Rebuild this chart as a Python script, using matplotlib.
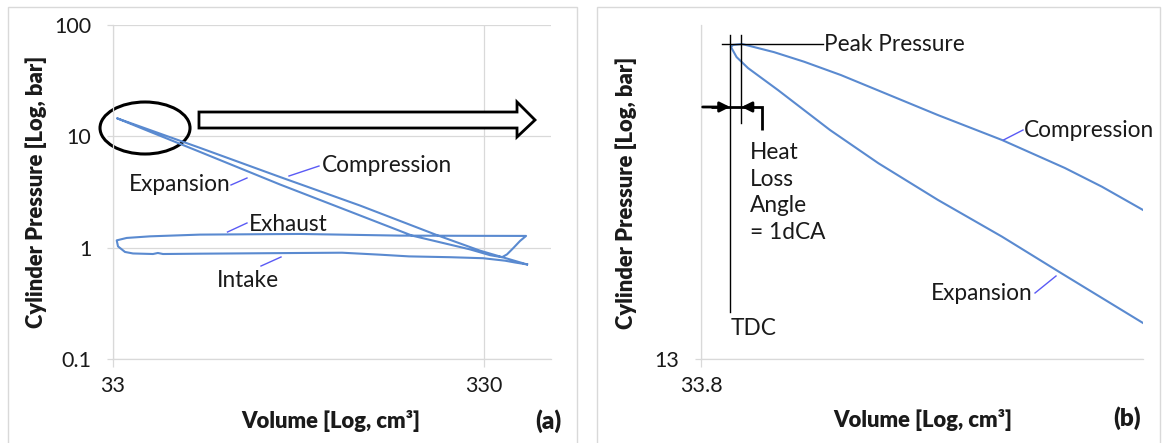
import numpy as np
import matplotlib
matplotlib.use('Agg')
import matplotlib.pyplot as plt
from matplotlib.patches import Ellipse, Polygon, Rectangle
from matplotlib.ticker import NullLocator

plt.rcParams['font.family'] = ['Lato', 'DejaVu Sans']

# ---- panel (a): full cycle, log-log ----
comp_V = [431.0, 321.9, 246.4, 152.9, 93.0, 56.6, 33.83]
comp_p = [0.707, 0.940, 1.296, 2.389, 4.315, 7.88, 14.53]
exp_V = [41.53, 56.6, 93.0, 143.6, 211.1, 302.5, 342.5, 369.0]
exp_p = [11.0, 7.25, 3.695, 2.111, 1.283, 0.965, 0.856, 0.821]
rise_V = [380.5, 395.0, 412.6, 428.3]
rise_p = [0.870, 0.986, 1.149, 1.275]
exh_V = [321.9, 195.9, 105.3, 56.6, 41.53, 35.93, 33.77]
exh_p = [1.277, 1.283, 1.328, 1.310, 1.264, 1.223, 1.163]
loop_V = [34.04, 35.55, 37.36]
loop_p = [1.027, 0.915, 0.887]
int_V = [42.3, 43.6, 45.0, 56.6, 105.3, 136.7, 173.0, 207.1, 267.2, 328.0, 375.9, 400.0, 431.0]
int_p = [0.877, 0.896, 0.877, 0.883, 0.896, 0.901, 0.865, 0.835, 0.821, 0.804, 0.764, 0.736, 0.707]

a_xticks = [33, 330]
a_yticks = [0.1, 1, 10, 100]
a_yticklabels = ['0.1', '1', '10', '100']

# ---- panel (b): zoom around TDC ----
bcomp_V = [34.6, 34.525, 34.4574, 34.3428, 34.2266, 34.0514, 33.9848, 33.9308, 33.8734, 33.8573, 33.8537]
bcomp_p = [13.691, 13.802, 13.892, 14.028, 14.150, 14.348, 14.415, 14.463, 14.504, 14.499, 14.489]
bexp_V = [33.8537, 33.8637, 33.8842, 33.9380, 34.0316, 34.119, 34.2266, 34.3428, 34.4501, 34.6]
bexp_p = [14.4885, 14.4382, 14.3831, 14.2736, 14.0767, 13.9149, 13.7387, 13.5646, 13.3944, 13.1637]
V_tdc = 33.852
V_peak = 33.8725
p_peak = 14.504

line_col = '#5a8ad0'
lead_col = '#5a5af5'
grid_col = '#d9d9d9'
txt_col = '#1a1a1a'

fs = 16.3      # annotation text
fs_lab = 15.8  # bold axis labels
bold_w = 'heavy'

fig = plt.figure(figsize=(11.65, 4.43), dpi=100)

# panel frames
for x0, x1 in [(8, 577), (597, 1160)]:
    fig.patches.append(Rectangle((x0 / 1165, -0.02), (x1 - x0) / 1165, 1 - 7 / 443 + 0.02,
                                 transform=fig.transFigure, fill=False, ec=grid_col, lw=1.0))


def style_axes(ax):
    ax.set_xscale('log')
    ax.set_yscale('log')
    ax.grid(True, color=grid_col, lw=0.9)
    for s in ['top', 'right']:
        ax.spines[s].set_visible(False)
    for s in ['left', 'bottom']:
        ax.spines[s].set_color(grid_col)
        ax.spines[s].set_linewidth(0.9)
    ax.tick_params(axis='y', length=4.5, width=0.9, color=grid_col, pad=11, labelsize=15.5, labelcolor=txt_col)
    ax.tick_params(axis='x', length=6, width=0.9, color=grid_col, pad=6, labelsize=15.5, labelcolor=txt_col)
    ax.set_axisbelow(True)


# ================= (a) =================
ax1 = fig.add_axes([113 / 1165, 1 - 359 / 443, 438 / 1165, 334 / 443])
style_axes(ax1)
cycV = comp_V + exp_V + rise_V + exh_V + loop_V + int_V
cycp = comp_p + exp_p + rise_p + exh_p + loop_p + int_p
ax1.plot(cycV, cycp, color=line_col, lw=1.5)
ax1.set_xlim(33, 500)
ax1.set_ylim(0.1, 100)
ax1.set_xticks(a_xticks, [str(v) for v in a_xticks])
ax1.set_yticks(a_yticks, a_yticklabels)
ax1.xaxis.set_minor_locator(NullLocator())
ax1.yaxis.set_minor_locator(NullLocator())

ax1.add_patch(Ellipse((0.0731, 0.6916), 0.2055, 0.1557, transform=ax1.transAxes,
                      fill=False, ec='black', lw=2.2, clip_on=False))
arrow_pts = [(0.1963, 0.7395), (0.9224, 0.7395), (0.9224, 0.7695), (0.9635, 0.7156),
             (0.9224, 0.6647), (0.9224, 0.6916), (0.1963, 0.6916)]
ax1.add_patch(Polygon(arrow_pts, closed=True, transform=ax1.transAxes,
                      fc='white', ec='black', lw=2.0, clip_on=False))

labels_a = [('Compression', 0.476, 0.5808, (0.4018, 0.5479), (0.4703, 0.5778)),
            ('Expansion', 0.0365, 0.521, (0.2694, 0.521), (0.3059, 0.5419)),
            ('Exhaust', 0.3105, 0.4012, (0.2614, 0.3802), (0.3059, 0.4072)),
            ('Intake', 0.2374, 0.2365, (0.3379, 0.2784), (0.3836, 0.3054))]
for t, tx, ty, p0, p1 in labels_a:
    ax1.text(tx, ty, t, transform=ax1.transAxes, fontsize=fs, color=txt_col, ha='left', va='center')
    ax1.plot([p0[0], p1[0]], [p0[1], p1[1]], transform=ax1.transAxes, color=lead_col, lw=1.0)

fig.text(36 / 1165, 1 - 191.5 / 443, 'Cylinder Pressure [Log, bar]', rotation=90, fontsize=fs_lab,
         fontweight=bold_w, color=txt_col, ha='center', va='center')
fig.text(331 / 1165, 1 - 421 / 443, 'Volume [Log, cm³]', fontsize=fs_lab, fontweight=bold_w,
         color=txt_col, ha='center', va='center')
fig.text(548 / 1165, 1 - 421 / 443, '(a)', fontsize=17.5, fontweight=bold_w, color=txt_col,
         ha='center', va='center')

# ================= (b) =================
ax2 = fig.add_axes([701 / 1165, 1 - 359 / 443, 442 / 1165, 334 / 443])
style_axes(ax2)
ax2.plot(bcomp_V, bcomp_p, color=line_col, lw=1.5)
ax2.plot(bexp_V, bexp_p, color=line_col, lw=1.5)
ax2.set_xlim(33.8, 34.6)
ax2.set_ylim(13, 14.6)
ax2.set_xticks([33.8], ['33.8'])
ax2.set_yticks([13], ['13'])
ax2.xaxis.set_minor_locator(NullLocator())
ax2.yaxis.set_minor_locator(NullLocator())

bt = ax2.get_xaxis_transform()
ax2.plot([V_tdc, V_tdc], [0.1407, 0.970], transform=bt, color='black', lw=1.0, clip_on=False)
ax2.plot([V_peak, V_peak], [0.7066, 0.970], transform=bt, color='black', lw=1.0, clip_on=False)
ax2.plot([0.0475, 0.2749], [0.9431, 0.9431], transform=ax2.transAxes, color='black', lw=1.0, clip_on=False)
# heat loss angle bracket
ax2.plot([0.0226, 0.138, 0.138], [0.7545, 0.7545, 0.6856], transform=ax2.transAxes,
         color='black', lw=2.0, clip_on=False, solid_capstyle='butt', solid_joinstyle='miter')
ax2.annotate('', xy=(V_tdc, 0.7545), xytext=(33.803, 0.7545), xycoords=bt, textcoords=bt,
             arrowprops=dict(arrowstyle='-|>,head_length=0.6,head_width=0.3', color='black', lw=2.0,
                             shrinkA=0, shrinkB=0))
ax2.annotate('', xy=(V_peak, 0.7545), xytext=(33.893, 0.7545), xycoords=bt, textcoords=bt,
             arrowprops=dict(arrowstyle='-|>,head_length=0.6,head_width=0.3', color='black', lw=2.0,
                             shrinkA=0, shrinkB=0))

ax2.text(0.2783, 0.9431, 'Peak Pressure', transform=ax2.transAxes, fontsize=fs, color=txt_col,
         ha='left', va='center')
ax2.text(0.1109, 0.4985, 'Heat\nLoss\nAngle\n= 1dCA', transform=ax2.transAxes, fontsize=fs,
         color=txt_col, ha='left', va='center', linespacing=1.32)
ax2.text(0.0679, 0.0928, 'TDC', transform=ax2.transAxes, fontsize=fs, color=txt_col,
         ha='left', va='center')
ax2.text(0.7308, 0.6856, 'Compression', transform=ax2.transAxes, fontsize=fs, color=txt_col,
         ha='left', va='center')
ax2.plot([0.6844, 0.7285], [0.6557, 0.6856], transform=ax2.transAxes, color=lead_col, lw=1.0)
ax2.text(0.7511, 0.1976, 'Expansion', transform=ax2.transAxes, fontsize=fs, color=txt_col,
         ha='right', va='center')
ax2.plot([0.7557, 0.8032], [0.1976, 0.2485], transform=ax2.transAxes, color=lead_col, lw=1.0)

fig.text(626 / 1165, 1 - 192.5 / 443, 'Cylinder Pressure [Log, bar]', rotation=90, fontsize=fs_lab,
         fontweight=bold_w, color=txt_col, ha='center', va='center')
fig.text(922.5 / 1165, 1 - 420 / 443, 'Volume [Log, cm³]', fontsize=fs_lab, fontweight=bold_w,
         color=txt_col, ha='center', va='center')
fig.text(1127 / 1165, 1 - 418 / 443, '(b)', fontsize=17.5, fontweight=bold_w, color=txt_col,
         ha='center', va='center')

fig.savefig('out.png', dpi=100)
